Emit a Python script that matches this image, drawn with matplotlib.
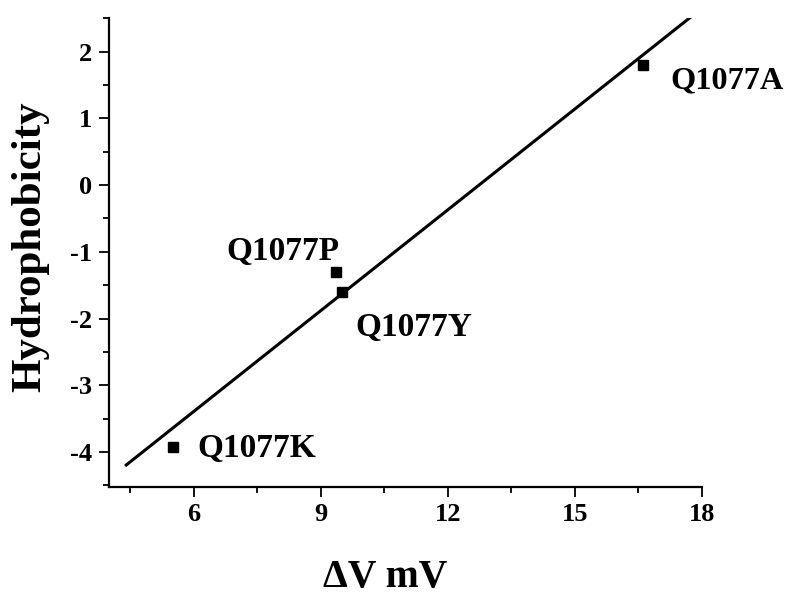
import numpy as np
import matplotlib
matplotlib.use("Agg")
import matplotlib.pyplot as plt
from matplotlib.ticker import MultipleLocator

# Data
labels = ["Q1077K", "Q1077P", "Q1077Y", "Q1077A"]
dv = [5.5, 9.37, 9.5, 16.6]
hydro = [-3.92, -1.3, -1.6, 1.8]
xticks = [6, 9, 12, 15, 18]
yticks = [-4, -3, -2, -1, 0, 1, 2]

plt.rcParams['font.family'] = ['Liberation Serif', 'DejaVu Serif']
plt.rcParams['font.weight'] = 'bold'
plt.rcParams['axes.unicode_minus'] = False

fig = plt.figure(figsize=(7.87, 5.95), dpi=100)
ax = fig.add_axes([109/787, 1-486.7/595, (702-109)/787, (486.7-18)/595])

# linear fit
slope, icpt = np.polyfit(dv, hydro, 1)
xf = np.array([4.38, 18.0])
ax.plot(xf, slope*xf + icpt, color='black', lw=2.2, solid_capstyle='butt')

ax.plot(dv, hydro, 's', color='black', ms=6.5, ls='none')

# annotations: (dx px, dy px, ha)
offs = {
    "Q1077K": (25, -10.3, 'left'),
    "Q1077P": (3.3, 12, 'right'),
    "Q1077Y": (13, -43.7, 'left'),
    "Q1077A": (28, -23, 'left'),
}
for lab, x, y in zip(labels, dv, hydro):
    dx, dy, ha = offs[lab]
    fs = 23.3 if lab == "Q1077A" else 24
    ax.annotate(lab, (x, y), xytext=(dx*0.72, dy*0.72), textcoords='offset points',
                ha=ha, va='baseline', fontsize=fs, fontweight='bold')

ax.set_xlim(4, 18)
ax.set_ylim(-4.52, 2.505)
ax.set_xticks(xticks)
ax.set_yticks(yticks)
ax.xaxis.set_minor_locator(MultipleLocator(1.5))
ax.yaxis.set_minor_locator(MultipleLocator(0.5))

for s in ['top', 'right']:
    ax.spines[s].set_visible(False)
for s in ['left', 'bottom']:
    ax.spines[s].set_linewidth(1.6)

ax.tick_params(which='major', length=7, width=1.3, labelsize=19, pad=5)
ax.tick_params(which='minor', length=4.5, width=1.3)
for t in ax.get_xticklabels() + ax.get_yticklabels():
    t.set_fontweight('bold')

fig.text(385/787, 1-577/595, 'ΔV mV', ha='center', va='center', fontsize=28.5, fontweight='bold')
fig.text(30/787, 1-247/595, 'Hydrophobicity', ha='center', va='center', rotation=90,
         fontsize=31, fontweight='bold')

fig.savefig('out.png', dpi=100)
